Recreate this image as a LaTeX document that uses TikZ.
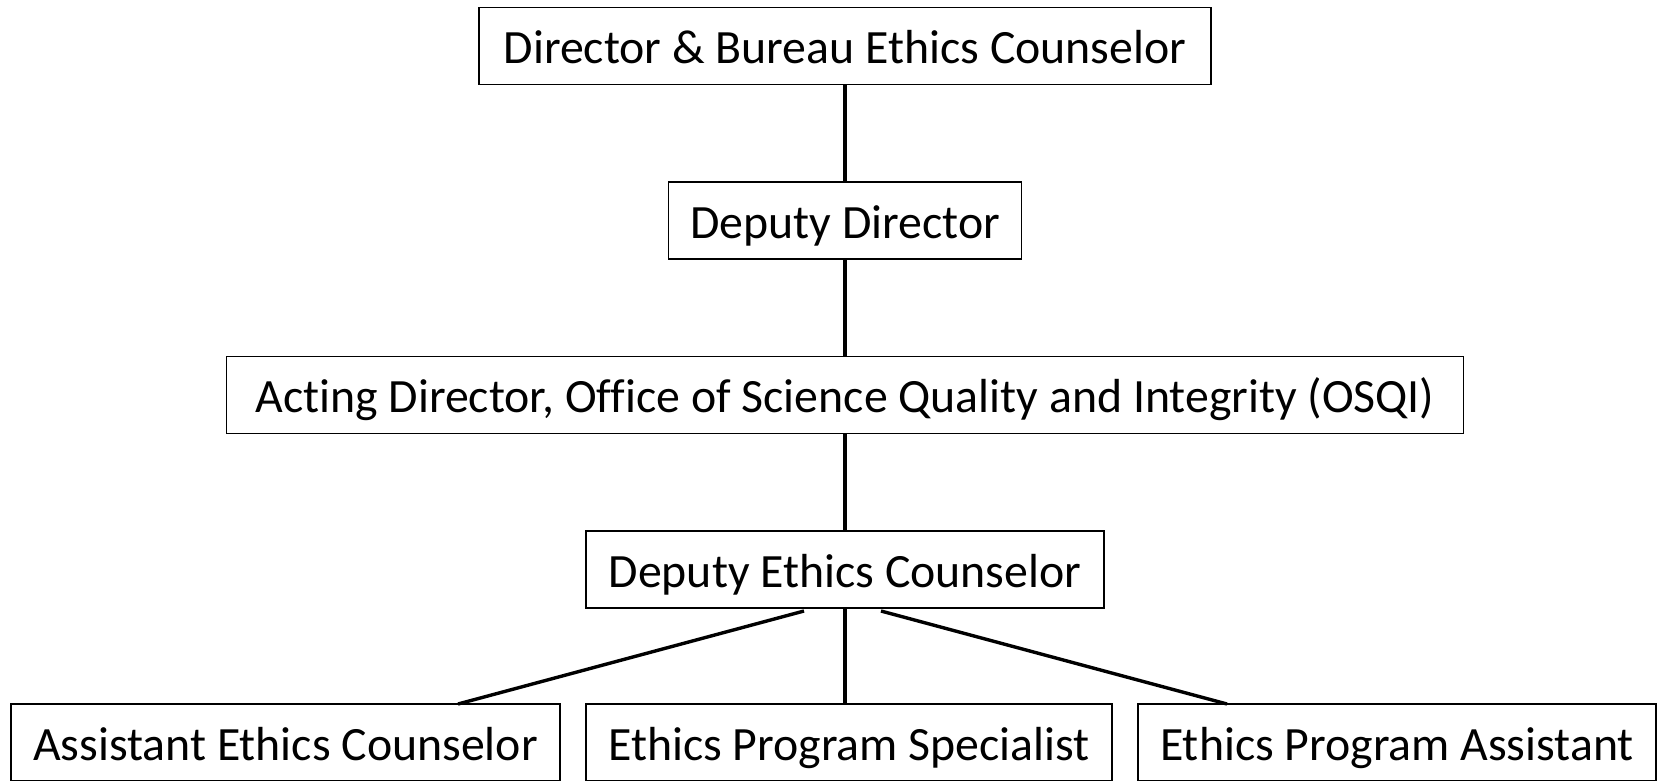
\documentclass[tikz,border=0pt]{standalone}
\usepackage{fontspec}
\setmainfont[Ligatures=NoCommon]{Carlito}
\begin{document}
\begin{tikzpicture}[x=1pt,y=-1pt,
  box/.style={draw=black,line width=1.4pt,rectangle,inner sep=0pt,minimum height=77pt,
    text height=45pt,text depth=10pt,
    font=\fontsize{47.8}{57}\selectfont,text=black},
  link/.style={line width=3.4pt,draw=black}]
\useasboundingbox (0,0) rectangle (1658,780);
\node[box,minimum width=732pt] (top) at (845,46) {Director \& Bureau Ethics Counselor};
\node[box,minimum width=353pt] (dep) at (845,220.5) {Deputy Director};
\node[box,minimum width=1237pt] (act) at (845,395) {Acting Director, Office of Science Quality and Integrity (OSQI)};
\node[box,minimum width=518pt] (dec) at (845,569.5) {Deputy Ethics Counselor};
\node[box,minimum width=549pt] (aec) at (285.5,742.5) {Assistant Ethics Counselor};
\node[box,minimum width=526pt] (eps) at (849,742.5) {Ethics Program Specialist};
\node[box,minimum width=518pt] (epa) at (1397,742.5) {Ethics Program Assistant};
\coordinate (l1) at (804,611);
\coordinate (l2) at (458,704);
\coordinate (r1) at (881,611);
\coordinate (r2) at (1227,704);
\coordinate (m2) at (845,704);
\draw[link] (top.south) -- (dep.north);
\draw[link] (dep.south) -- (act.north);
\draw[link] (act.south) -- (dec.north);
\draw[link] (dec.south) -- (m2);
\draw[link] (l1) -- (l2);
\draw[link] (r1) -- (r2);
\end{tikzpicture}
\end{document}
